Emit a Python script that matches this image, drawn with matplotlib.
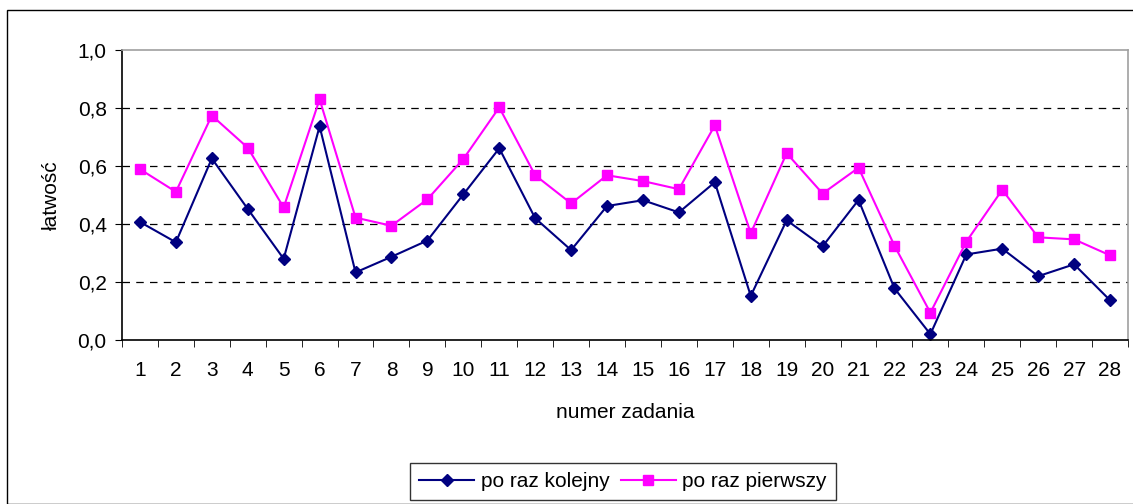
import numpy as np
import matplotlib.pyplot as plt
from matplotlib.patches import Rectangle
from matplotlib.ticker import FixedLocator

# task numbers and easiness values
zadania = list(range(1, 29))
po_raz_kolejny = [0.407, 0.337, 0.626, 0.452, 0.280, 0.737, 0.233, 0.287, 0.343, 0.502,
                  0.661, 0.420, 0.310, 0.462, 0.482, 0.440, 0.544, 0.152, 0.413, 0.323,
                  0.483, 0.178, 0.020, 0.295, 0.315, 0.220, 0.261, 0.137]
po_raz_pierwszy = [0.589, 0.511, 0.774, 0.663, 0.457, 0.830, 0.422, 0.394, 0.485, 0.624,
                   0.802, 0.568, 0.471, 0.568, 0.548, 0.520, 0.740, 0.368, 0.644, 0.505,
                   0.594, 0.325, 0.094, 0.339, 0.518, 0.354, 0.347, 0.292]
y_ticks = [0.0, 0.2, 0.4, 0.6, 0.8, 1.0]
y_labels = ["0,0", "0,2", "0,4", "0,6", "0,8", "1,0"]

plt.rcParams["font.family"] = ["Liberation Sans", "DejaVu Sans"]
FS = 15
W, H = 1133, 504
fig = plt.figure(figsize=(W / 100, H / 100), dpi=100)

# outer chart border
fig.patches.append(Rectangle((7 / W, 0), 1.0, 1 - 10 / H, transform=fig.transFigure,
                             fill=False, edgecolor="black", linewidth=1.0))

ax = fig.add_axes([122 / W, 1 - 340 / H, (1128 - 122) / W, (340 - 50) / H])

ax.plot(zadania, po_raz_kolejny, color="#000080", marker="D", markersize=6.3,
        markeredgewidth=1.0, linewidth=1.5, label="po raz kolejny")
ax.plot(zadania, po_raz_pierwszy, color="#FF00FF", marker="s", markersize=7.8,
        markeredgewidth=1.0, linewidth=1.5, label="po raz pierwszy")

ax.set_xlim(0.5, 28.5)
ax.set_ylim(0, 1.0)
ax.set_xticks(zadania)
ax.set_xticklabels([str(z) for z in zadania])
ax.xaxis.set_minor_locator(FixedLocator(np.arange(0.5, 29, 1.0)))
ax.tick_params(axis="x", which="major", length=0, pad=15, labelsize=FS)
ax.tick_params(axis="x", which="minor", length=5, direction="out", color="black")
ax.set_yticks(y_ticks)
ax.set_yticklabels(y_labels)
ax.tick_params(axis="y", length=5, direction="out", labelsize=FS, pad=6)

for y in y_ticks[1:-1]:
    ax.axhline(y, color="black", linestyle=(0, (6, 5)), linewidth=0.9, zorder=0)

ax.spines["left"].set_color("black")
ax.spines["bottom"].set_color("black")
ax.spines["top"].set_color("#a0a0a0")
ax.spines["right"].set_color("#a0a0a0")
for s in ax.spines.values():
    s.set_linewidth(1.2)

ax.set_ylabel("łatwość", fontsize=FS, labelpad=12)
ax.set_xlabel("numer zadania", fontsize=FS, labelpad=17)

leg = ax.legend(loc="center", bbox_to_anchor=(623 / W, 1 - 481.5 / H),
                bbox_transform=fig.transFigure, ncol=2, fontsize=FS,
                frameon=True, fancybox=False, edgecolor="black",
                handlelength=2.65, columnspacing=0.55, handletextpad=0.3,
                borderpad=0.45, borderaxespad=0)
leg.get_frame().set_linewidth(1.0)

fig.savefig("out.png", dpi=100)
